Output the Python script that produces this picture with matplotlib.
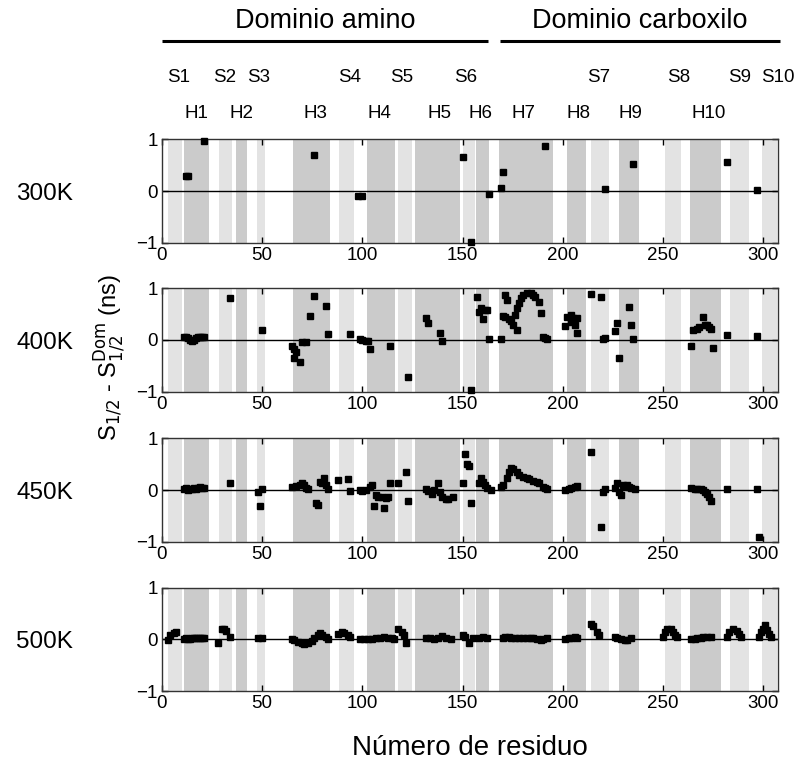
import numpy as np
import matplotlib
matplotlib.use('Agg')
import matplotlib.pyplot as plt
import matplotlib.transforms as mtransforms

matplotlib.rcParams['font.family'] = ['Liberation Sans', 'DejaVu Sans']
matplotlib.rcParams['font.size'] = 13
matplotlib.rcParams['axes.linewidth'] = 1

# --- estructura secundaria (residuos) ---
strand_start = [3.2, 28.5, 47.3, 88.5, 117.6, 150.4, 213.9, 251.0, 283.4, 299.5]
strand_end = [10.2, 34.9, 51.5, 96.0, 125.0, 156.2, 223.2, 259.1, 292.7, 306.7]
helix_start = [11.2, 37.0, 65.6, 102.5, 126.3, 156.7, 168.3, 202.3, 227.9, 263.6]
helix_end = [23.7, 42.6, 83.9, 116.3, 148.7, 163.2, 194.9, 211.6, 238.0, 278.8]

s_labels = ['S1', 'S2', 'S3', 'S4', 'S5', 'S6', 'S7', 'S8', 'S9', 'S10']
s_label_x = [8.2, 31.5, 48.1, 93.9, 119.7, 151.7, 217.7, 257.6, 288.4, 307.5]
h_labels = ['H1', 'H2', 'H3', 'H4', 'H5', 'H6', 'H7', 'H8', 'H9', 'H10']
h_label_x = [17.4, 39.9, 76.4, 108.8, 138.7, 159.0, 180.3, 207.7, 233.5, 272.6]

domains = ['Dominio amino', 'Dominio carboxilo']
domain_start = [0, 168.7]
domain_end = [162.8, 308.3]

temps = ['300K', '400K', '450K', '500K']

# --- datos: S1/2 - S1/2^Dom (ns) ---
x_300 = [12, 13, 21, 76, 98, 100, 150, 154, 163, 169, 170, 191, 221, 235, 282, 297]
y_300 = [0.29, 0.29, 0.97, 0.70, -0.10, -0.10, 0.65, -0.99, -0.06, 0.06, 0.37, 0.87,
         0.03, 0.52, 0.57, 0.01]

x_400 = [11, 12, 13, 14, 15, 16, 17, 18, 19, 20, 21, 34, 50, 65, 66, 66, 67, 69, 70, 72,
         74, 76, 82, 83, 94, 99, 100, 102, 103, 104, 114, 123, 132, 133, 139, 140, 154,
         157, 158, 159, 160, 161, 162, 163, 169, 170, 171, 172, 171, 173, 174, 175, 177,
         176, 177, 178, 179, 180, 182, 184, 185, 186, 188, 189, 190, 191, 192, 201, 202,
         204, 205, 207, 204, 206, 207, 214, 219, 220, 221, 226, 227, 228, 233, 234, 235,
         264, 265, 267, 268, 270, 271, 272, 273, 274, 275, 282, 297]
y_400 = [0.05, 0.06, 0.03, 0.00, -0.02, 0.00, 0.03, 0.05, 0.06, 0.05, 0.06, 0.81, 0.19,
         -0.11, -0.18, -0.34, -0.24, -0.43, -0.04, -0.04, 0.46, 0.86, 0.66, 0.12, 0.12,
         0.02, 0.00, -0.01, -0.02, -0.17, -0.11, -0.72, 0.42, 0.33, 0.14, -0.01, -0.97,
         0.84, 0.55, 0.61, 0.40, 0.58, 0.58, 0.02, 0.02, 0.46, 0.87, 0.77, 0.44, 0.41,
         0.36, 0.29, 0.19, 0.48, 0.61, 0.71, 0.81, 0.87, 0.90, 0.90, 0.88, 0.84, 0.74,
         0.52, 0.06, 0.03, 0.02, 0.27, 0.45, 0.48, 0.43, 0.42, 0.35, 0.29, 0.14, 0.89,
         0.84, 0.02, 0.03, 0.17, 0.33, -0.35, 0.64, 0.29, 0.02, -0.11, 0.19, 0.22, 0.26,
         0.44, 0.29, 0.29, 0.26, 0.21, -0.15, 0.09, 0.07]

x_450 = [11, 12, 13, 14, 15, 16, 17, 18, 19, 20, 21, 34, 48, 49, 50, 65, 67, 69, 70, 71,
         72, 73, 77, 78, 79, 80, 81, 82, 83, 88, 93, 94, 99, 100, 102, 104, 105, 106,
         107, 108, 110, 111, 112, 113, 114, 118, 122, 123, 132, 133, 135, 136, 138, 139,
         140, 142, 143, 145, 150, 151, 152, 153, 154, 158, 159, 160, 161, 162, 164, 169,
         170, 172, 173, 174, 175, 177, 178, 180, 182, 183, 185, 187, 188, 190, 191, 192,
         201, 203, 204, 206, 207, 214, 219, 220, 221, 226, 227, 228, 229, 230, 231, 232,
         233, 234, 236, 264, 266, 267, 269, 270, 271, 272, 273, 274, 282, 297, 298]
y_450 = [0.02, 0.03, 0.00, 0.02, 0.01, 0.03, 0.02, 0.04, 0.05, 0.04, 0.03, 0.14, -0.03,
         -0.30, 0.02, 0.06, 0.08, 0.10, 0.14, 0.10, 0.04, 0.02, -0.26, -0.29, 0.16, 0.13,
         0.23, 0.10, 0.02, 0.19, 0.21, -0.01, 0.00, -0.01, 0.00, 0.05, 0.10, -0.30, -0.10,
         -0.13, -0.14, -0.35, -0.15, -0.14, 0.13, 0.14, 0.34, -0.21, 0.02, -0.02, -0.08,
         0.00, 0.13, -0.03, -0.13, -0.18, -0.18, -0.14, 0.13, 0.69, 0.50, 0.46, -0.26,
         0.13, 0.23, 0.16, 0.10, 0.03, 0.00, 0.06, 0.10, 0.23, 0.35, 0.42, 0.40, 0.34,
         0.29, 0.26, 0.23, 0.21, 0.18, 0.16, 0.13, 0.06, 0.03, 0.02, 0.00, 0.02, 0.04,
         0.06, 0.08, 0.74, -0.72, -0.04, 0.02, 0.03, 0.13, -0.03, -0.10, 0.10, 0.08, 0.10,
         0.06, 0.03, 0.01, 0.03, 0.02, 0.01, 0.01, 0.00, -0.03, -0.08, -0.14, -0.21, 0.01,
         0.01, -0.91]

x_500 = [3, 4, 6, 7, 11, 12, 13, 14, 15, 16, 17, 18, 19, 20, 21, 28, 30, 31, 32, 34, 48,
         50, 65, 66, 68, 70, 71, 73, 75, 76, 78, 79, 80, 82, 83, 88, 90, 91, 93, 94, 99,
         101, 103, 105, 107, 109, 111, 113, 115, 116, 118, 120, 121, 122, 132, 134, 136,
         138, 140, 142, 144, 150, 151, 153, 155, 158, 160, 162, 170, 171, 173, 174, 176,
         178, 180, 182, 184, 185, 187, 189, 190, 192, 201, 203, 204, 206, 207, 214, 215,
         217, 218, 226, 227, 229, 231, 232, 234, 250, 251, 252, 254, 255, 256, 257, 264,
         266, 267, 269, 270, 272, 274, 282, 283, 285, 287, 288, 289, 298, 299, 300, 301,
         302, 303, 304]
y_500 = [-0.02, 0.08, 0.12, 0.14, 0.01, 0.02, 0.01, 0.01, 0.02, 0.02, 0.02, 0.02, 0.03,
         0.02, 0.02, -0.08, 0.20, 0.20, 0.16, 0.04, 0.02, 0.02, 0.01, -0.01, -0.05, -0.07,
         -0.09, -0.07, -0.03, 0.02, 0.08, 0.12, 0.08, 0.05, 0.01, 0.10, 0.15, 0.12, 0.09,
         0.04, 0.00, 0.00, 0.01, 0.01, 0.02, 0.02, 0.05, 0.03, 0.02, 0.00, 0.20, 0.15,
         0.08, -0.08, 0.02, 0.02, 0.01, 0.03, 0.06, 0.02, 0.01, 0.08, 0.05, -0.07, 0.03,
         0.03, 0.04, 0.03, 0.03, 0.04, 0.04, 0.03, 0.03, 0.03, 0.03, 0.02, 0.02, 0.02,
         0.01, -0.01, 0.01, 0.02, 0.00, 0.02, 0.03, 0.04, 0.03, 0.30, 0.25, 0.15, 0.09,
         0.05, 0.02, 0.01, -0.01, -0.01, 0.02, 0.05, 0.15, 0.20, 0.20, 0.15, 0.08, 0.05,
         0.00, 0.01, 0.02, 0.03, 0.04, 0.05, 0.05, 0.05, 0.15, 0.19, 0.17, 0.10, 0.05,
         0.05, 0.15, 0.20, 0.27, 0.18, 0.10, 0.05]

series = [(x_300, y_300), (x_400, y_400), (x_450, y_450), (x_500, y_500)]

W, H = 803, 766
fig = plt.figure(figsize=(W / 100, H / 100), dpi=100)

ax_left = 161.8 / W
ax_width = (778.3 - 161.8) / W
ax_height = 103.4 / H
ax_bottoms = [1 - 242.7 / H, 1 - 391.7 / H, 1 - 541.7 / H, 1 - 691.0 / H]

light = '#e3e3e3'
dark = '#cbcbcb'

axes = []
for k, (xs, ys) in enumerate(series):
    ax = fig.add_axes([ax_left, ax_bottoms[k], ax_width, ax_height])
    for a, b in zip(strand_start, strand_end):
        ax.axvspan(a, b, color=light, lw=0, zorder=0)
    for a, b in zip(helix_start, helix_end):
        ax.axvspan(a, b, color=dark, lw=0, zorder=0)
    ax.axhline(0, color='black', lw=1, zorder=1)
    ax.plot(xs, ys, 's', color='black', markersize=4.6, zorder=3, clip_on=False)
    ax.set_xlim(0, 307.5)
    ax.set_ylim(-1, 1)
    ax.set_xticks([0, 50, 100, 150, 200, 250, 300])
    ax.set_yticks([-1, 0, 1])
    ax.tick_params(direction='in', top=True, right=True, length=4, width=1,
                   labelsize=13.5, pad=3)
    for sp in ax.spines.values():
        sp.set_color('#333333')
    ax.text(-0.19, 0.47, temps[k], transform=ax.transAxes, ha='center',
            va='center', fontsize=17.5)
    axes.append(ax)

# --- etiquetas superiores ---
ax1 = axes[0]
trans = mtransforms.blended_transform_factory(ax1.transData, fig.transFigure)
for name, a, b in zip(domains, domain_start, domain_end):
    ax1.plot([a, b], [1 - 40.7 / H, 1 - 40.7 / H], color='black', lw=2.2,
             transform=trans, clip_on=False, solid_capstyle='butt')
    ax1.text((a + b) / 2, 1 - 21 / H, name, transform=trans, ha='center',
             va='center', fontsize=19.5)
for lab, xp in zip(s_labels, s_label_x):
    ax1.text(xp, 1 - 77 / H, lab, transform=trans, ha='center', va='center', fontsize=13.5)
for lab, xp in zip(h_labels, h_label_x):
    ax1.text(xp, 1 - 113 / H, lab, transform=trans, ha='center', va='center', fontsize=13.5)

fig.text(110 / W, 1 - 357 / H, r'S$_{1/2}$ - S$^{\rm Dom}_{1/2}$ (ns)', rotation=90,
         ha='center', va='center', fontsize=17)
fig.text(470 / W, 1 - 748 / H, 'Número de residuo', ha='center', va='center',
         fontsize=20)

plt.savefig('out.png', dpi=100)
plt.close()
